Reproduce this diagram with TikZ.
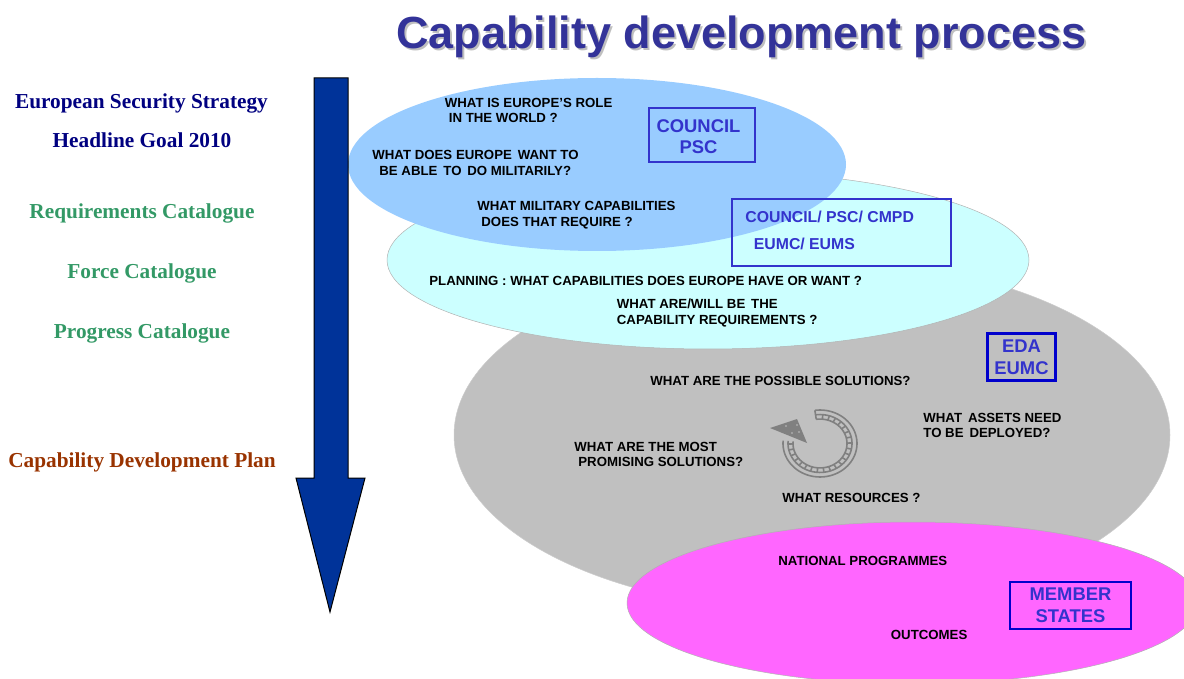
\documentclass[tikz,border=0pt]{standalone}
\usepackage{fontspec}
\setmainfont{Liberation Sans}
\newfontfamily\serifbold{Liberation Serif}[BoldFont={Liberation Serif Bold}]
\definecolor{titleblue}{HTML}{333399}
\definecolor{boxblue}{HTML}{3333CC}
\definecolor{boxdeep}{HTML}{0000CC}
\definecolor{arrowblue}{HTML}{003399}
\definecolor{navytext}{HTML}{000080}
\definecolor{greentext}{HTML}{339966}
\definecolor{rusttext}{HTML}{993300}
\definecolor{ellblue}{HTML}{99CCFF}
\definecolor{ellcyan}{HTML}{CCFFFF}
\definecolor{ellgrey}{HTML}{C0C0C0}
\definecolor{ellpink}{HTML}{FF66FF}
\definecolor{ringgrey}{HTML}{808080}
\tikzset{
  x=0.5pt,y=-0.5pt,
  question/.style={anchor=west,align=left,inner sep=0pt,font=\fontsize{6.62}{7.9}\selectfont\bfseries,text=black},
  sidelabel/.style={anchor=center,inner sep=0pt,font=\serifbold\fontsize{10.65}{12}\selectfont\bfseries},
  owner/.style={draw=boxblue,line width=1.2pt,inner sep=0pt,text=boxblue,align=center,font=\fontsize{9.2}{11}\selectfont\bfseries},
  ownertext/.style={anchor=west,inner sep=0pt,text=boxblue,font=\fontsize{7.9}{9}\selectfont\bfseries},
  ellipseedge/.style={draw=gray!60,line width=0.25pt},
}
\begin{document}
\begin{tikzpicture}
\useasboundingbox (0,0) rectangle (1184,679);
% title
\node[anchor=center,inner sep=0pt,font=\fontsize{22.5}{28}\selectfont\bfseries,text=black!25] (titleshadow) at (743.5,39) {Capability development process};
\node[anchor=center,inner sep=0pt,font=\fontsize{22.5}{28}\selectfont\bfseries,text=titleblue] (title) at (741.5,37) {Capability development process};
% ellipses
\begin{scope}
\clip (0,0) rectangle (1184,679);
\path[fill=ellgrey,draw=gray!40,line width=0.25pt] (812,435) ellipse [x radius=358,y radius=176];
\path[fill=ellcyan,ellipseedge] (708,260) ellipse [x radius=321,y radius=89];
\fill[ellblue] (597,164.5) ellipse [x radius=249,y radius=86.5];
\path[fill=ellpink,ellipseedge] (912.5,603) ellipse [x radius=285.5,y radius=81];
\end{scope}
% main arrow
\path[fill=arrowblue,draw=black,line width=0.5pt]
  (314,78) -- (348,78) -- (348,478) -- (365,478) -- (330,612) -- (296,478) -- (314,478) -- cycle;
% side labels
\node[sidelabel,text=navytext] (ess) at (141.5,103) {European Security Strategy};
\node[sidelabel,text=navytext] (hg) at (142,140) {Headline Goal 2010};
\node[sidelabel,text=greentext] (rc) at (142,213) {Requirements Catalogue};
\node[sidelabel,text=greentext] (fc) at (142,273) {Force Catalogue};
\node[sidelabel,text=greentext] (pc) at (142,333) {Progress Catalogue};
\node[sidelabel,text=rusttext] (cdp) at (142,462) {Capability Development Plan};
% questions
\node[question] (q1) at (444.5,110.5) {WHAT IS EUROPE’S ROLE\\\hspace*{2pt}IN THE WORLD ?};
\node[question] (q2) at (372,163) {WHAT DOES EUROPE\, WANT TO\\\hspace*{3.5pt}BE ABLE\, TO\, DO MILITARILY?};
\node[question] (q3) at (477,215) {WHAT MILITARY CAPABILITIES\\\hspace*{2pt}DOES THAT REQUIRE ?};
\node[question] (q4) at (429,280.5) {PLANNING : WHAT CAPABILITIES DOES EUROPE HAVE OR WANT ?};
\node[question] (q5) at (616.5,313) {WHAT ARE/WILL BE\, THE\\CAPABILITY REQUIREMENTS ?};
\node[question] (q6) at (650,380.5) {WHAT ARE THE POSSIBLE SOLUTIONS?};
\node[question] (q7) at (923,425.5) {WHAT\, ASSETS NEED\\TO BE\, DEPLOYED?};
\node[question] (q8) at (574,454.5) {WHAT ARE THE MOST\\\hspace*{2pt}PROMISING SOLUTIONS?};
\node[question] (q9) at (782,497.5) {WHAT RESOURCES ?};
\node[question] (q10) at (778,560.5) {NATIONAL PROGRAMMES};
\node[question] (q11) at (890.5,634.5) {OUTCOMES};
% owner boxes
\node[draw=boxblue,line width=1.2pt,inner sep=0pt,minimum width=53pt,minimum height=27pt] (b1) at (702,135) {};
\node[inner sep=0pt,text=boxblue,align=center,font=\fontsize{9.2}{10.5}\selectfont\bfseries] (b1t) at (698.5,137) {COUNCIL\\PSC};
\node[draw=boxblue,line width=1.2pt,inner sep=0pt,minimum width=109.5pt,minimum height=33.5pt] (b2) at (841.5,232.5) {};
\node[ownertext] (b2a) at (745,217) {COUNCIL/ PSC/ CMPD};
\node[ownertext] (b2b) at (753.5,244) {EUMC/ EUMS};
\node[owner,draw=boxdeep,minimum width=34pt,minimum height=23.5pt] (b3) at (1021.5,357) {EDA\\EUMC};
\node[owner,draw=boxdeep,minimum width=60.5pt,minimum height=23.5pt] (b4) at (1070.5,605.5) {MEMBER\\STATES};
% cycle arrow
\def\ringcx{820}\def\ringcy{443.5}
\begin{scope}[ringgrey]
  \foreach \r in {37,32,27}
    \draw[line width=0.8pt] plot[domain=-98:185,samples=70] ({\ringcx+\r*cos(\x)},{\ringcy+0.905*\r*sin(\x)});
  \draw[line width=0.8pt] ({\ringcx+37*cos(-98)},{\ringcy+0.905*37*sin(-98)}) -- ({\ringcx+27*cos(-98)},{\ringcy+0.905*27*sin(-98)});
  \foreach \a in {-85,-73,...,185}
    \draw[line width=0.8pt] ({\ringcx+27*cos(\a)},{\ringcy+0.905*27*sin(\a)}) -- ({\ringcx+32*cos(\a)},{\ringcy+0.905*32*sin(\a)});
  \fill[ringgrey] (770,428) -- (797,419) -- (807,443) -- cycle;
  \fill[ellgrey] (786,426) circle (0.8) (797,425) circle (0.8) (792,433) circle (0.8) (799,432) circle (0.8);
\end{scope}
\end{tikzpicture}
\end{document}
